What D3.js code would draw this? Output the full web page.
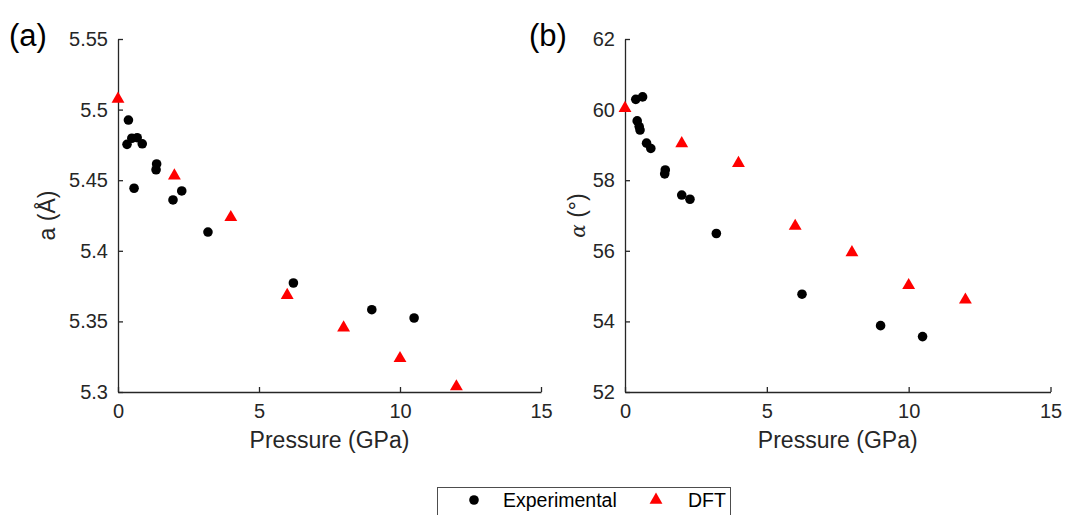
<!DOCTYPE html>
<html><head><meta charset="utf-8">
<script src="https://cdn.jsdelivr.net/npm/d3@7"></script>
<style>
html,body{margin:0;padding:0;background:#fff;}
svg{display:block;font-family:"Liberation Sans",Arial,sans-serif;}
</style></head>
<body><svg id="chart" width="1065" height="515"></svg>
<script>
// ---- data ----
const xTicks = [0, 5, 10, 15];
const aTicks = [5.3, 5.35, 5.4, 5.45, 5.5, 5.55];
const aTickLabels = ["5.3", "5.35", "5.4", "5.45", "5.5", "5.55"];
const alphaTicks = [52, 54, 56, 58, 60, 62];
const alphaTickLabels = ["52", "54", "56", "58", "60", "62"];

// panel (a): lattice parameter a (Å)
const expPressureA = [0.37, 0.32, 0.49, 0.68, 0.86, 1.37, 1.35, 0.57, 2.26, 1.95, 3.19, 6.22, 9.0, 10.5];
const expA =         [5.4926, 5.4754, 5.4797, 5.4801, 5.4758, 5.4615, 5.4574, 5.4443, 5.4424, 5.436, 5.4133, 5.3772, 5.3583, 5.3524];
const dftPressure = [0, 2, 4, 6, 8, 10, 12];
const dftA =        [5.5075, 5.4532, 5.4237, 5.3685, 5.3455, 5.3238, 5.3038];

// panel (b): rhombohedral angle alpha (°)
const expPressureAlpha = [0.38, 0.62, 0.43, 0.50, 0.53, 0.76, 0.91, 1.42, 1.40, 2.0, 2.29, 3.22, 6.24, 9.01, 10.49];
const expAlpha =         [60.29, 60.36, 59.68, 59.52, 59.42, 59.05, 58.90, 58.29, 58.18, 57.58, 57.46, 56.49, 54.77, 53.88, 53.57];
const dftAlpha =         [60.04, 59.04, 58.48, 56.70, 55.95, 55.02, 54.61];

const legendLabels = ["Experimental", "DFT"];

// ---- drawing ----
const svg = d3.select("#chart");
const ink = "#262626";
const plotTop = 39, plotBottom = 392;
const triSize = 72;

function panel(opts) {
  const x = d3.scaleLinear().domain([0, 15]).range([opts.x0, opts.x1]);
  const y = d3.scaleLinear().domain(opts.yDomain).range([plotBottom, plotTop]);
  const g = svg.append("g");

  const xAxis = d3.axisBottom(x).tickValues(xTicks).tickSizeInner(-5).tickSizeOuter(0).tickPadding(12);
  const gx = g.append("g").attr("transform", `translate(0,${plotBottom})`).call(xAxis);
  const yAxis = d3.axisLeft(y).tickValues(opts.yTicks).tickFormat((d, i) => opts.yTickLabels[i])
    .tickSizeInner(-5).tickSizeOuter(0).tickPadding(10);
  const gy = g.append("g").attr("transform", `translate(${opts.x0},0)`).call(yAxis);
  [gx, gy].forEach(a => {
    a.select(".domain").attr("stroke", ink).attr("stroke-width", 1.3);
    a.selectAll(".tick line").attr("stroke", ink).attr("stroke-width", 1.3);
    a.selectAll(".tick text").attr("fill", ink).attr("font-size", 20)
      .attr("font-family", '"Liberation Sans",Arial,sans-serif');
  });
  gx.selectAll(".tick text").attr("dy", "0.71em");

  g.append("text").attr("x", (opts.x0 + opts.x1) / 2).attr("y", 448)
    .attr("text-anchor", "middle").attr("font-size", 23).attr("fill", ink).text("Pressure (GPa)");

  const yl = g.append("text").attr("transform", `translate(${opts.yLabelX},${(plotTop + plotBottom) / 2}) rotate(-90)`)
    .attr("text-anchor", "middle").attr("font-size", 23).attr("fill", ink);
  opts.yLabel(yl);

  g.append("text").attr("x", opts.tagX).attr("y", 46).attr("font-size", 31).attr("fill", "#000").text(opts.tag);

  g.selectAll("circle.exp").data(opts.expP.map((p, i) => [p, opts.expV[i]])).enter()
    .append("circle").attr("cx", d => x(d[0])).attr("cy", d => y(d[1])).attr("r", 4.8).attr("fill", "#000");
  const tri = d3.symbol().type(d3.symbolTriangle).size(triSize);
  g.selectAll("path.dft").data(dftPressure.map((p, i) => [p, opts.dftV[i]])).enter()
    .append("path").attr("d", tri).attr("fill", "#ff0000")
    .attr("transform", d => `translate(${x(d[0])},${y(d[1])})`);
}

panel({
  x0: 118, x1: 541, yDomain: [5.3, 5.55], yTicks: aTicks, yTickLabels: aTickLabels,
  yLabelX: 55, tag: "(a)", tagX: 9,
  yLabel: t => t.text("a (Å)"),
  expP: expPressureA, expV: expA, dftV: dftA
});
panel({
  x0: 625, x1: 1050.5, yDomain: [52, 62], yTicks: alphaTicks, yTickLabels: alphaTickLabels,
  yLabelX: 585, tag: "(b)", tagX: 529,
  yLabel: t => { t.append("tspan").attr("font-family", '"DejaVu Serif",serif').attr("font-style", "italic").attr("font-size", 20).text("α"); t.append("tspan").text(" (°)"); },
  expP: expPressureAlpha, expV: expAlpha, dftV: dftAlpha
});

// legend
const lg = svg.append("g");
lg.append("rect").attr("x", 437.5).attr("y", 487.5).attr("width", 293).attr("height", 40)
  .attr("fill", "#fff").attr("stroke", "#4d4d4d").attr("stroke-width", 1);
lg.append("circle").attr("cx", 474).attr("cy", 500).attr("r", 4.8).attr("fill", "#000");
lg.append("text").attr("x", 503).attr("y", 507).attr("font-size", 19.5).attr("fill", "#000").text(legendLabels[0]);
lg.append("path").attr("d", d3.symbol().type(d3.symbolTriangle).size(triSize)).attr("fill", "#ff0000")
  .attr("transform", "translate(656,500)");
lg.append("text").attr("x", 688).attr("y", 507).attr("font-size", 19.5).attr("fill", "#000").text(legendLabels[1]);
</script>
</body></html>
